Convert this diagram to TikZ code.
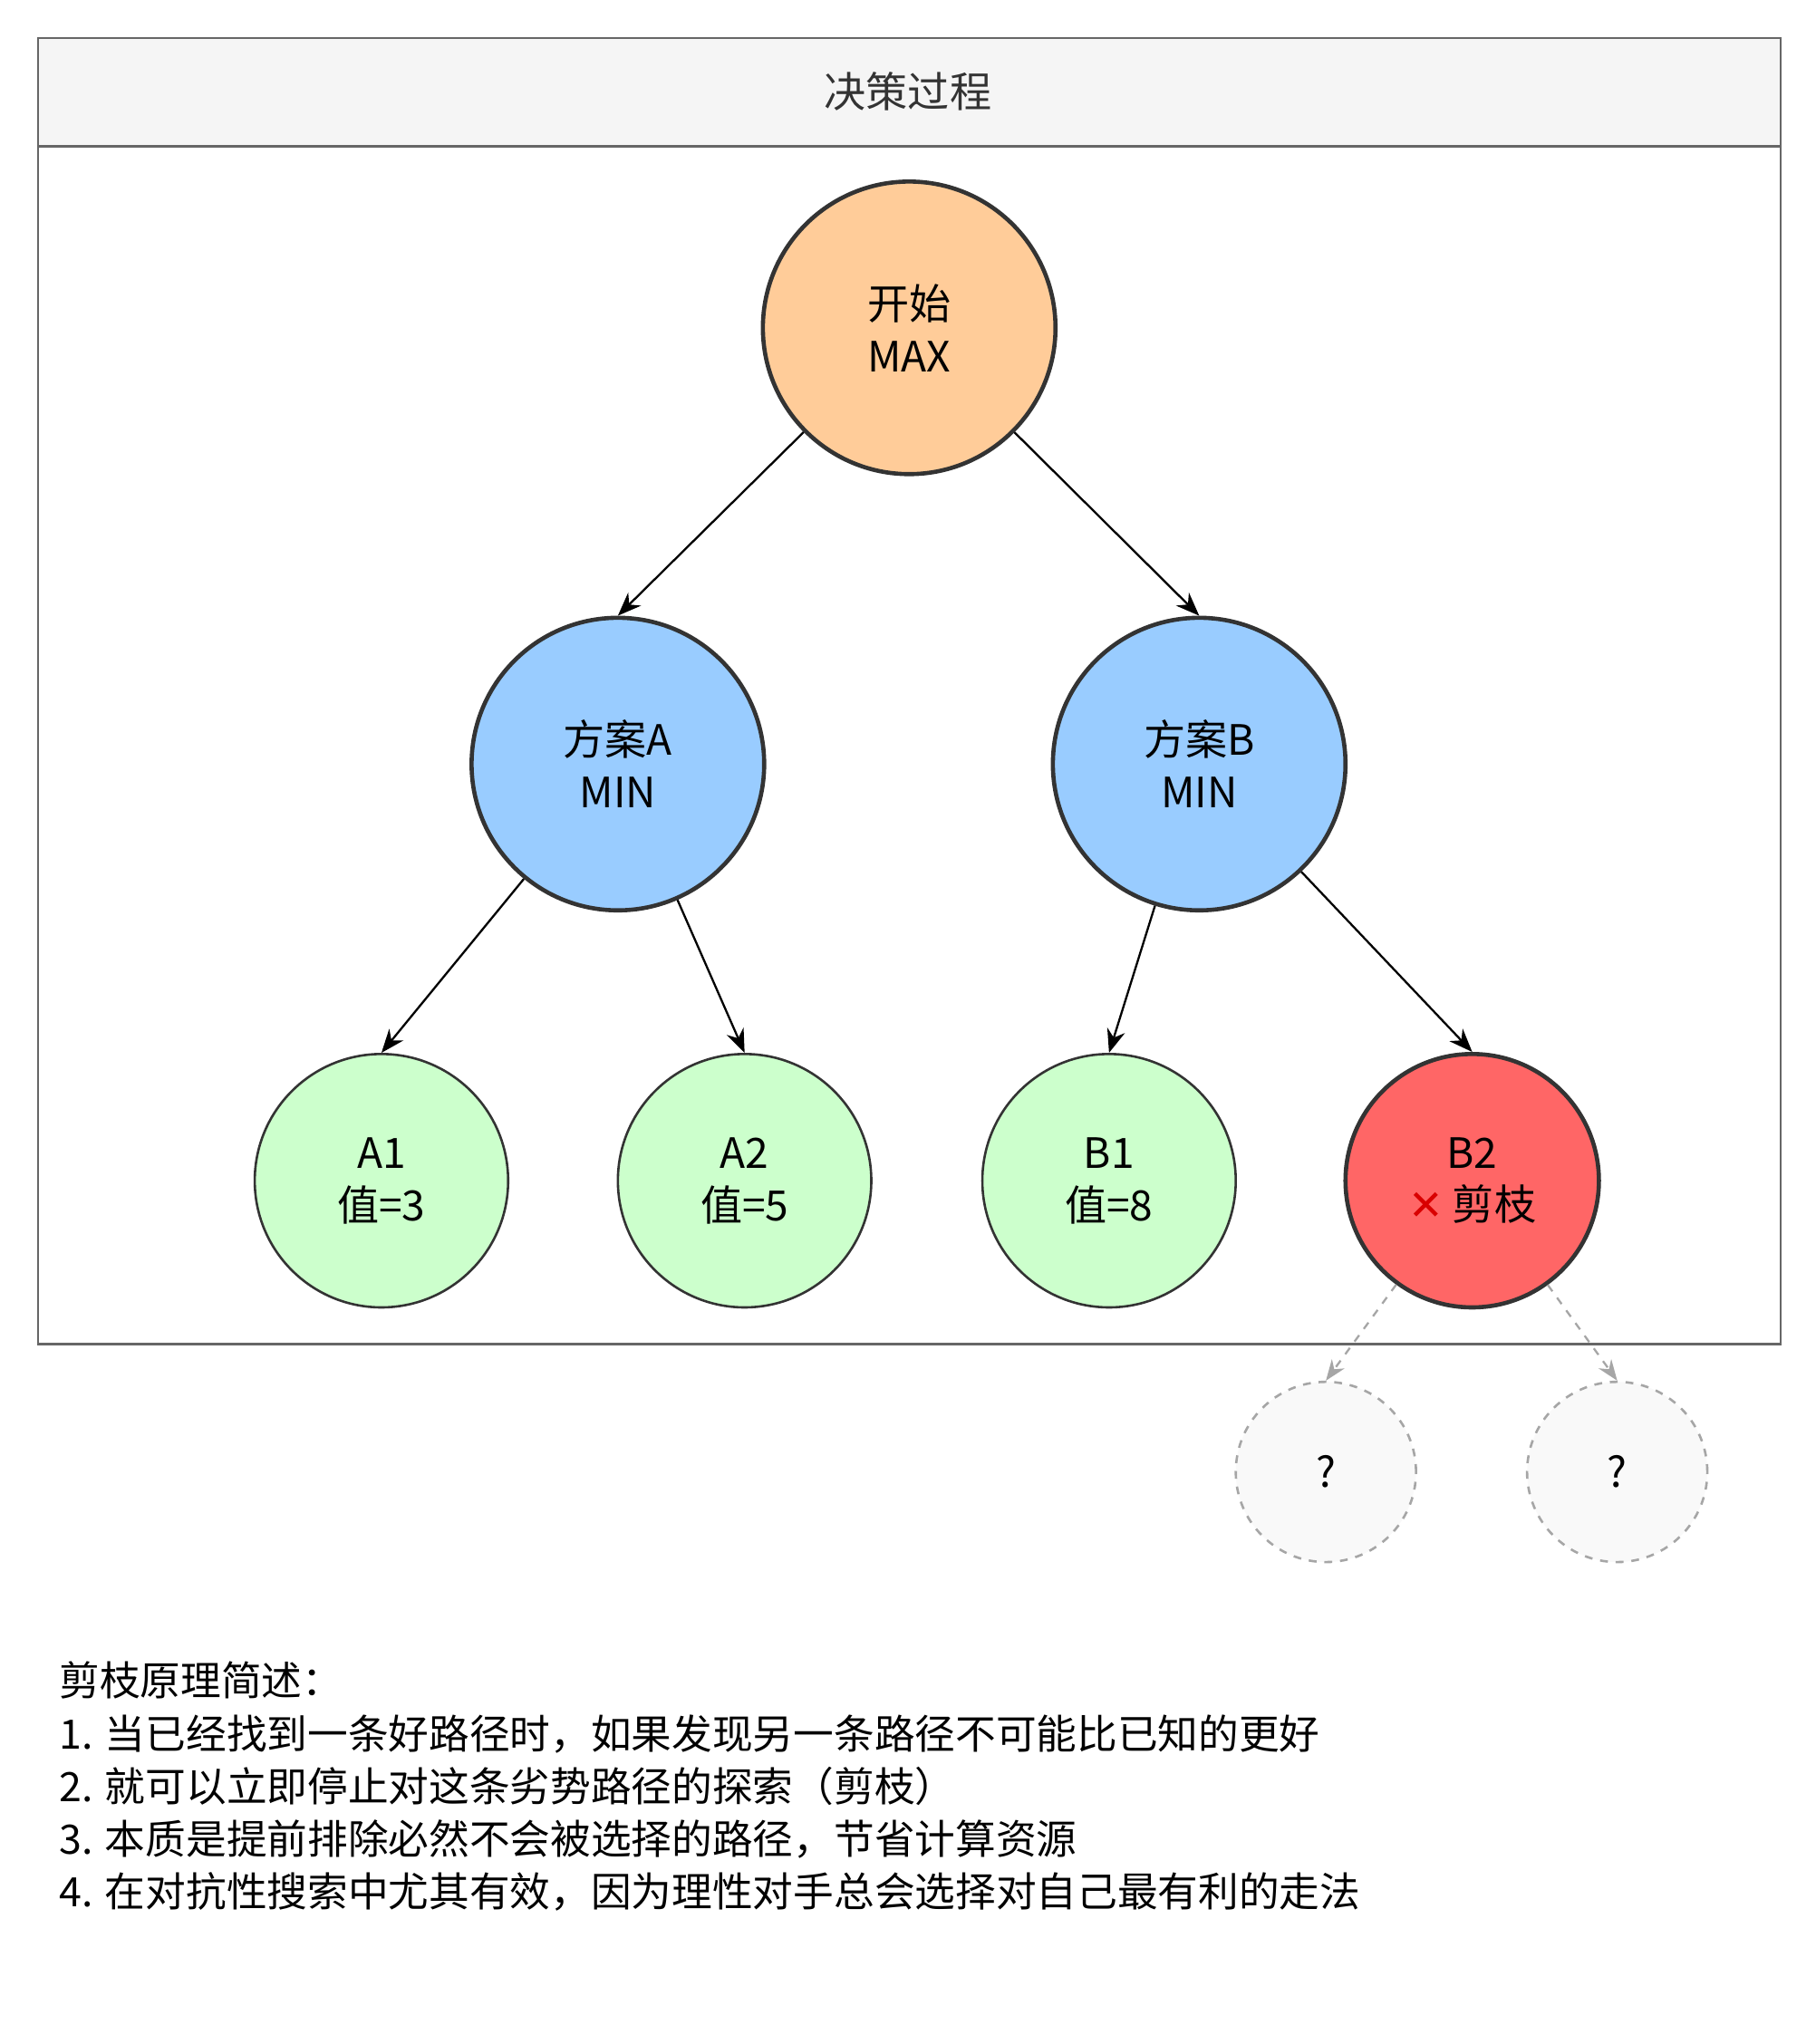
\documentclass[tikz,border=0pt]{standalone}
\usepackage{fontspec}
\setmainfont{Noto Sans CJK SC}
\newfontfamily\symfont{DejaVu Sans}
\usetikzlibrary{arrows.meta}
\definecolor{startfill}{HTML}{FFCC99}
\definecolor{minfill}{HTML}{99CCFF}
\definecolor{leaffill}{HTML}{CCFFCC}
\definecolor{cutfill}{HTML}{FF6666}
\definecolor{framegray}{HTML}{666666}
\definecolor{headgray}{HTML}{F5F5F5}
\definecolor{edgegray}{HTML}{333333}
\begin{document}
\begin{tikzpicture}
    [
    x=0.5pt,y=-0.5pt,
    every node/.style={font=\fontsize{16pt}{20pt}\selectfont},
    bignode/.style={circle,draw=edgegray,line width=1.6pt,minimum size=112pt,inner sep=0pt,align=center},
    leaf/.style={circle,draw=edgegray,line width=0.9pt,fill=leaffill,minimum size=97pt,inner sep=0pt,align=center},
    unknown/.style={circle,draw=gray!70,dashed,line width=0.9pt,fill=gray!5,minimum size=69pt,inner sep=0pt},
    link/.style={-{Stealth[length=9pt,width=7pt]},line width=0.8pt},
    ghostlink/.style={-{Stealth[length=8pt,width=6pt]},dashed,gray!70,line width=0.8pt}
    ]
    \useasboundingbox (0,0) rectangle (1390,1565);
    % frame
    \draw[framegray,line width=0.9pt,fill=headgray] (29,29) rectangle (1363,112);
    \draw[framegray,line width=0.9pt] (29,112) rectangle (1363,1029);
    \node[text=edgegray] (title) at (695,70) {决策过程};
    % tree
    \node[bignode,fill=startfill] (start) at (696,251) {开始\\MAX};
    \node[bignode,fill=minfill] (pa) at (473,585) {方案A\\MIN};
    \node[bignode,fill=minfill] (pb) at (918,585) {方案B\\MIN};
    \node[leaf] (a1) at (292,904) {A1\\值=3};
    \node[leaf] (a2) at (570,904) {A2\\值=5};
    \node[leaf] (b1) at (849,904) {B1\\值=8};
    \node[leaf,fill=cutfill,line width=1.6pt] (b2) at (1127,904) {B2\\{\symfont\textcolor{red!85!black}{\bfseries ✕}} 剪枝};
    \node[unknown] (q1) at (1015,1127) {?};
    \node[unknown] (q2) at (1238,1127) {?};
    \draw[link] (start) -- (pa.north);
    \draw[link] (start) -- (pb.north);
    \draw[link] (pa) -- (a1.north);
    \draw[link] (pa) -- (a2.north);
    \draw[link] (pb) -- (b1.north);
    \draw[link] (pb) -- (b2.north);
    \draw[ghostlink] (b2) -- (q1.north);
    \draw[ghostlink] (b2) -- (q2.north);
    % note
    \node[anchor=north west,align=left,inner sep=0pt,font=\fontsize{15.5pt}{20.2pt}\selectfont] (note) at (45,1272)
      {剪枝原理简述：\\
       1. 当已经找到一条好路径时，如果发现另一条路径不可能比已知的更好\\
       2. 就可以立即停止对这条劣势路径的探索（剪枝）\\
       3. 本质是提前排除必然不会被选择的路径，节省计算资源\\
       4. 在对抗性搜索中尤其有效，因为理性对手总会选择对自己最有利的走法};
\end{tikzpicture}
\end{document}
